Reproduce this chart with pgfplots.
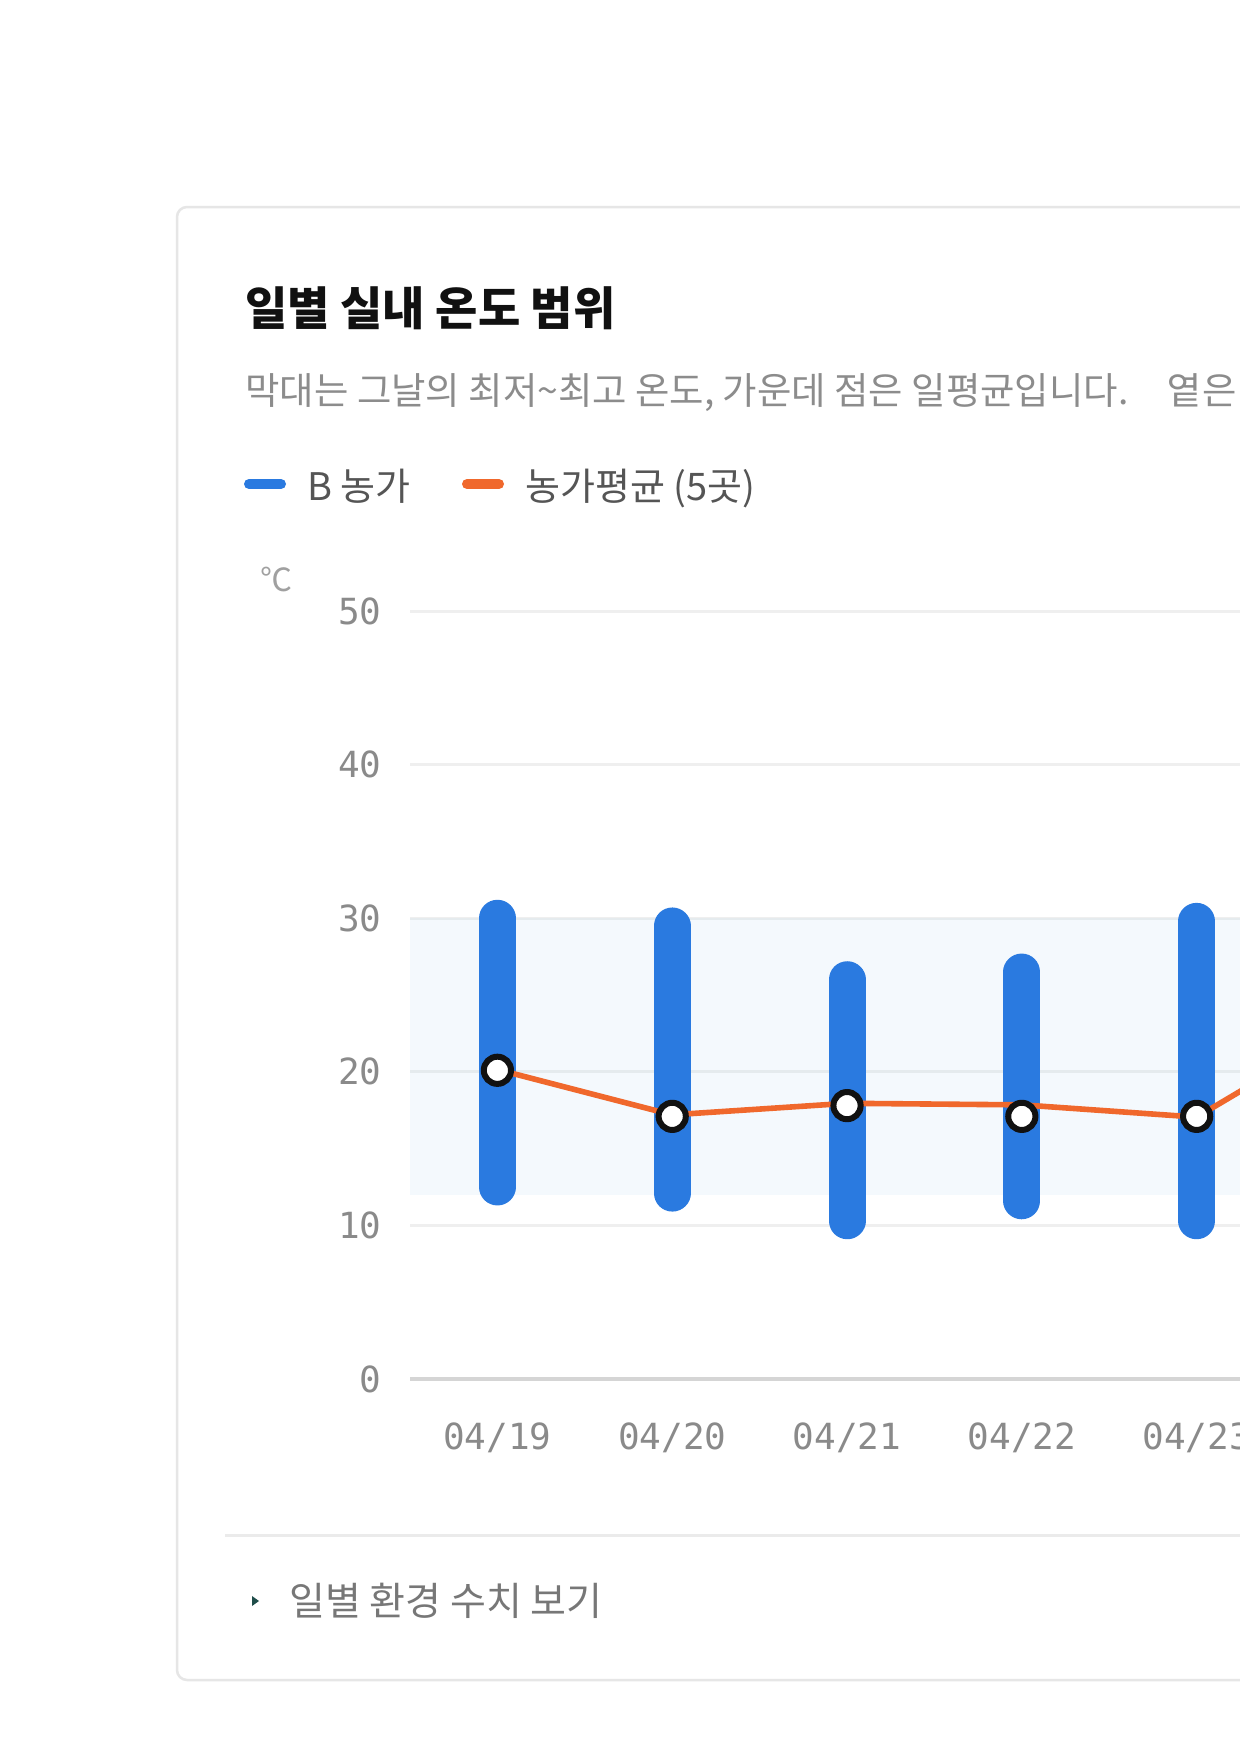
\documentclass[border=0pt]{standalone}
\usepackage{fontspec}
\usepackage{pgfplots}
\pgfplotsset{compat=1.18}
\newfontfamily\kr{Noto Sans CJK KR}
\newfontfamily\mono{DejaVu Sans Mono}
\definecolor{barblue}{HTML}{2A7AE0}
\definecolor{avgorange}{HTML}{F0682C}
\definecolor{bandblue}{RGB}{120,190,235}
\definecolor{gridgray}{HTML}{EFEFEF}
\definecolor{zerogray}{HTML}{D5D5D5}
\definecolor{tickgray}{HTML}{8A8A8A}
\definecolor{subgray}{HTML}{8C8C8C}
\definecolor{leggray}{HTML}{555555}
\definecolor{cardgray}{HTML}{E6E6E6}
\definecolor{sepgray}{HTML}{EBEBEB}
\definecolor{footgray}{HTML}{777777}
\definecolor{arrowteal}{HTML}{1F4D4A}
\definecolor{titleblack}{HTML}{111111}
\definecolor{unitgray}{HTML}{A0A0A0}
\definecolor{ringblack}{HTML}{111111}
\begin{document}
\begin{tikzpicture}
\fill[white] (0,0) rectangle (620pt,-876.5pt);
\begin{scope}[x=0.5pt,y=-0.5pt]
\draw[cardgray, line width=1.25pt, fill=white, rounded corners=5pt] (177,207) rectangle (1400,1680);
\node[anchor=base west, inner sep=0pt, font=\kr\bfseries\fontsize{23pt}{26pt}\selectfont, text=titleblack] at (245,325) {일별 실내 온도 범위};
\node[anchor=base west, inner sep=0pt, font=\kr\fontsize{18.7pt}{21pt}\selectfont, text=subgray] at (245,404) {막대는 그날의 최저\textasciitilde 최고 온도, 가운데 점은 일평균입니다.\hspace{14pt} 옅은 띠는 적정 범위입니다.};
\draw[barblue, line width=5pt, line cap=round] (249,484) -- (281,484);
\node[anchor=base west, inner sep=0pt, font=\kr\fontsize{19pt}{21pt}\selectfont, text=leggray] at (307,500) {B 농가};
\draw[avgorange, line width=5pt, line cap=round] (467,484) -- (499,484);
\node[anchor=base west, inner sep=0pt, font=\kr\fontsize{19pt}{21pt}\selectfont, text=leggray] at (525,500) {농가평균 (5곳)};
\node[inner sep=0pt, font=\kr\fontsize{16pt}{16pt}\selectfont, text=unitgray] at (276,579) {℃};
\draw[sepgray, line width=1.5pt] (225,1535) -- (1400,1535);
\fill[arrowteal] (252,1596) -- (259,1601) -- (252,1606) -- cycle;
\node[anchor=base west, inner sep=0pt, font=\kr\fontsize{19.5pt}{22pt}\selectfont, text=footgray] at (289,1615) {일별 환경 수치 보기};
\end{scope}
\begin{axis}[
  at={(205pt,-689.5pt)}, anchor=south west,
  scale only axis, width=415pt, height=384pt,
  xmin=-0.5, xmax=4.248, ymin=0, ymax=50,
  enlargelimits=false,
  axis line style={draw=none},
  major tick length=0pt,
  xtick style={draw=none}, ytick style={draw=none},
  ytick={10,20,30,40,50},
  extra y ticks={0},
  extra y tick style={grid style={zerogray, line width=2pt}},
  ymajorgrids,
  grid style={gridgray, line width=1.5pt},
  xtick={0,1,2,3,4},
  xticklabels={04/19,04/20,04/21,04/22,04/23},
  tick label style={font=\mono\fontsize{18pt}{18pt}\selectfont, text=tickgray},
  /pgf/number format/assume math mode=true,
  yticklabel style={anchor=east, inner sep=0pt, xshift=-14pt},
  xticklabel style={anchor=north, inner sep=0pt, yshift=-21.5pt},
]
\addplot[draw=none, fill=bandblue, fill opacity=0.08] coordinates {(-0.5,12) (4.248,12) (4.248,30) (-0.5,30)} -- cycle;
% daily min-max bars (B farm)
\addplot[barblue, line width=18.5pt, line cap=round, shorten <=9.25pt, shorten >=9.25pt] coordinates {(0,11.3) (0,31.2)};
\addplot[barblue, line width=18.5pt, line cap=round, shorten <=9.25pt, shorten >=9.25pt] coordinates {(1,10.9) (1,30.7)};
\addplot[barblue, line width=18.5pt, line cap=round, shorten <=9.25pt, shorten >=9.25pt] coordinates {(2,9.1) (2,27.2)};
\addplot[barblue, line width=18.5pt, line cap=round, shorten <=9.25pt, shorten >=9.25pt] coordinates {(3,10.4) (3,27.7)};
\addplot[barblue, line width=18.5pt, line cap=round, shorten <=9.25pt, shorten >=9.25pt] coordinates {(4,9.1) (4,31.0)};
% farm average (5 farms)
\addplot[avgorange, line width=2.8pt, mark=none] coordinates {(0,20.15) (1,17.2) (2,17.95) (3,17.85) (4,17.05) (5,23.8)};
% daily mean (B farm)
\addplot[only marks, mark=*, mark size=6.8pt, mark options={draw=ringblack, fill=white, line width=3pt}] coordinates {(0,20.1) (1,17.1) (2,17.8) (3,17.1) (4,17.1)};
\end{axis}
\pgfresetboundingbox
\useasboundingbox (0,0) rectangle (620pt,-876.5pt);
\end{tikzpicture}
\end{document}
